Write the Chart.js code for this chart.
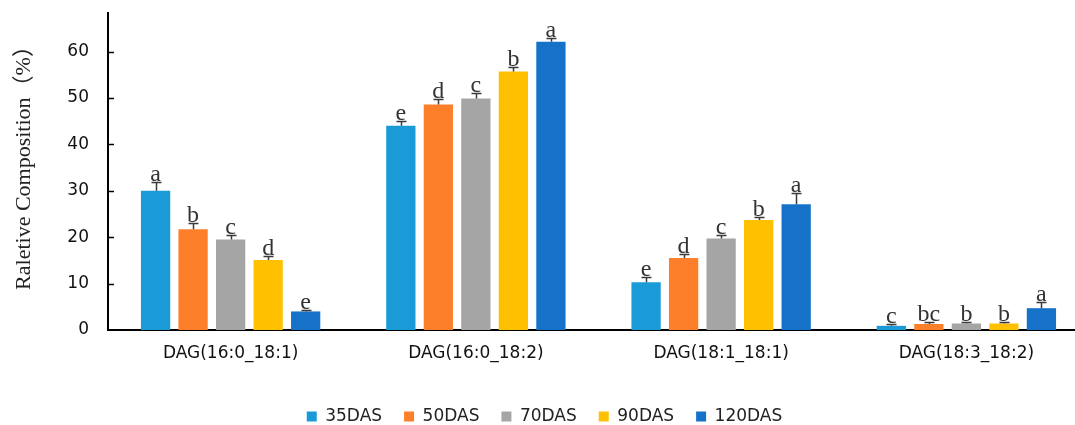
<!DOCTYPE html>
<html>
<head>
<meta charset="utf-8">
<script src="https://cdn.jsdelivr.net/npm/chart.js@4/dist/chart.umd.min.js"></script>
<style>
  html, body { margin: 0; padding: 0; background: #fff; overflow: hidden; }
  #wrap { width: 1092px; height: 435px; }
</style>
</head>
<body>
<div id="wrap"><canvas id="chart" width="1092" height="435"></canvas></div>
<script>
// Lipid species on the category axis
const categories = ['DAG(16:0_18:1)', 'DAG(16:0_18:2)', 'DAG(18:1_18:1)', 'DAG(18:3_18:2)'];

// Sampling stages (days after sowing)
const stages = ['35DAS', '50DAS', '70DAS', '90DAS', '120DAS'];
const stageColors = ['#1a9bd7', '#fe7f2a', '#a5a5a5', '#ffc000', '#1672c8'];

// Mean relative composition (%) per stage
const das35 = [30.0, 44.0, 10.3, 0.9];
const das50 = [21.7, 48.6, 15.5, 1.3];
const das70 = [19.5, 49.9, 19.7, 1.4];
const das90 = [15.1, 55.7, 23.7, 1.4];
const das120 = [4.0, 62.1, 27.1, 4.7];

// Standard deviations (upper error bars)
const sd35 = [1.9, 1.0, 1.1, 0.4];
const sd50 = [1.4, 1.2, 0.9, 0.4];
const sd70 = [0.9, 1.1, 0.7, 0.4];
const sd90 = [0.9, 1.0, 0.7, 0.4];
const sd120 = [0.4, 0.8, 2.4, 1.3];

// Significance letters
const sig35 = ['a', 'e', 'e', 'c'];
const sig50 = ['b', 'd', 'd', 'bc'];
const sig70 = ['c', 'c', 'c', 'b'];
const sig90 = ['d', 'b', 'b', 'b'];
const sig120 = ['e', 'a', 'a', 'a'];

// Y axis
const yTicks = [0, 10, 20, 30, 40, 50, 60];
const yMax = 68.3;
const yTitle = 'Raletive Composition（%）';

const seriesValues = [das35, das50, das70, das90, das120];
const seriesErrors = [sd35, sd50, sd70, sd90, sd120];
const seriesLetters = [sig35, sig50, sig70, sig90, sig120];

const sansFont = '"DejaVu Sans", sans-serif';
const serifFont = '"Liberation Serif", "Times New Roman", serif';

const datasets = stages.map((name, i) => ({
  label: name,
  data: seriesValues[i],
  errors: seriesErrors[i],
  letters: seriesLetters[i],
  backgroundColor: stageColors[i],
  borderWidth: 0,
  categoryPercentage: 0.765,
  barPercentage: 0.78
}));

// Upper error bars with caps, plus the letter above each cap
const errorBarPlugin = {
  id: 'errorBars',
  afterDatasetsDraw(chart) {
    const ctx = chart.ctx;
    const y = chart.scales.y;
    ctx.save();
    chart.data.datasets.forEach((ds, di) => {
      const meta = chart.getDatasetMeta(di);
      meta.data.forEach((bar, i) => {
        const v = ds.data[i];
        const top = Math.round(y.getPixelForValue(v + ds.errors[i])) + 0.5;
        const x = Math.round(bar.x) + 0.5;
        ctx.strokeStyle = '#3a3a3a';
        ctx.lineWidth = 1.5;
        ctx.beginPath();
        ctx.moveTo(x, bar.y);
        ctx.lineTo(x, top);
        ctx.moveTo(x - 5, top);
        ctx.lineTo(x + 5, top);
        ctx.stroke();
        ctx.fillStyle = '#333';
        ctx.font = '24px ' + serifFont;
        ctx.textAlign = 'center';
        ctx.textBaseline = 'alphabetic';
        ctx.fillText(ds.letters[i], bar.x, top - 2);
      });
    });
    ctx.restore();
  }
};

// Short inward tick marks on the value axis and the rotated axis title
const axisDecorPlugin = {
  id: 'axisDecor',
  afterDraw(chart) {
    const ctx = chart.ctx;
    const y = chart.scales.y;
    const area = chart.chartArea;
    ctx.save();
    ctx.strokeStyle = '#000';
    ctx.lineWidth = 1.5;
    yTicks.forEach(t => {
      if (t === 0) return;
      const py = Math.round(y.getPixelForValue(t)) + 0.5;
      ctx.beginPath();
      ctx.moveTo(area.left, py);
      ctx.lineTo(area.left + 6, py);
      ctx.stroke();
    });
    ctx.translate(24, (area.top + area.bottom) / 2 - 9);
    ctx.rotate(-Math.PI / 2);
    ctx.fillStyle = '#222';
    ctx.font = '22px "Liberation Serif", "Noto Sans CJK SC", serif';
    ctx.textAlign = 'center';
    ctx.textBaseline = 'middle';
    ctx.fillText(yTitle, 0, 0);
    ctx.restore();
  }
};

new Chart(document.getElementById('chart'), {
  type: 'bar',
  data: { labels: categories, datasets },
  options: {
    responsive: false,
    animation: false,
    devicePixelRatio: 1,
    layout: { padding: { top: 13, right: 3, left: 0, bottom: 0 } },
    plugins: {
      legend: {
        position: 'bottom',
        labels: {
          boxWidth: 10,
          boxHeight: 10,
          padding: 22,
          color: '#222',
          font: { family: sansFont, size: 17 }
        }
      },
      tooltip: { enabled: false }
    },
    scales: {
      x: {
        afterFit(scale) { scale.height = 56; },
        grid: { display: false, drawTicks: false },
        border: { display: true, color: '#000', width: 2 },
        ticks: {
          color: '#111',
          padding: 13,
          font: { family: sansFont, size: 17 }
        }
      },
      y: {
        min: 0,
        max: yMax,
        afterFit(scale) {
          scale.width = 108;
          scale.paddingTop = 0;
          scale.paddingBottom = 0;
        },
        afterBuildTicks(scale) { scale.ticks = yTicks.map(v => ({ value: v })); },
        grid: { display: false, drawTicks: false },
        border: { display: true, color: '#000', width: 2 },
        ticks: {
          color: '#111',
          padding: 19,
          font: { family: sansFont, size: 17 }
        }
      }
    }
  },
  plugins: [errorBarPlugin, axisDecorPlugin]
});
</script>
</body>
</html>
